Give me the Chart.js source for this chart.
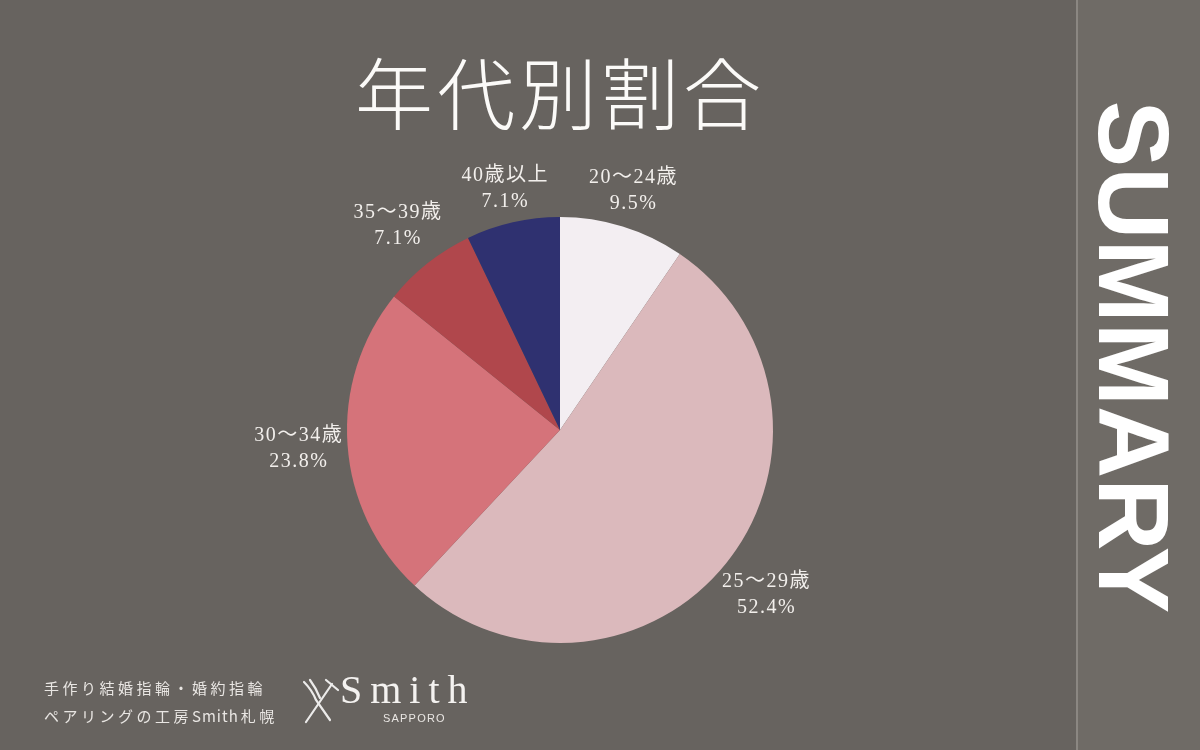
<!DOCTYPE html>
<html>
<head>
<meta charset="utf-8">
<script src="https://cdn.jsdelivr.net/npm/chart.js@4.4.0/dist/chart.umd.min.js"></script>
<style>
  html, body { margin: 0; padding: 0; }
  body { width: 1200px; height: 750px; background: #67635f; position: relative; overflow: hidden; }
  #side { position: absolute; left: 1076px; top: 0; width: 124px; height: 750px; background: #6f6b66; border-left: 2px solid #8b8782; box-sizing: border-box; }
  #summary { position: absolute; left: 1134px; top: 357px; transform: translate(-50%, -50%) rotate(90deg); color: #fff;
    font-family: "Liberation Sans", Arial, sans-serif; font-weight: bold; font-size: 100px; line-height: 1; white-space: nowrap; }
  #title { position: absolute; left: 0; width: 1120px; top: 46px; text-align: center; color: #fbfaf8;
    font-family: "Noto Sans CJK JP", sans-serif; font-weight: 300; font-size: 78px; line-height: 88px; letter-spacing: 4px; }
  #chart { position: absolute; left: 0; top: 0; }
  .foot { position: absolute; left: 44px; color: #e9e6e3; font-family: "Noto Sans CJK JP", sans-serif; font-size: 15px; letter-spacing: 3.5px; white-space: nowrap; }
  .foot span { letter-spacing: 1px; margin-right: 2px; }
  #logo { position: absolute; left: 340px; top: 668px; color: #f4f2f0; font-family: "Liberation Serif", "DejaVu Serif", serif; font-size: 40px; letter-spacing: 8px; line-height: 44px; }
  #sapporo { position: absolute; left: 383px; top: 712px; color: #e9e6e3; font-family: "Liberation Sans", sans-serif; font-size: 11px; letter-spacing: 1.2px; }
  #icon { position: absolute; left: 300px; top: 676px; }
</style>
</head>
<body>
<div id="side"></div>
<div id="summary">SUMMARY</div>
<div id="title">年代別割合</div>
<canvas id="chart" width="1200" height="750"></canvas>
<div class="foot" style="top:677px">手作り結婚指輪・婚約指輪</div>
<div class="foot" style="top:705px">ペアリングの工房<span>Smith</span>札幌</div>
<svg id="icon" width="40" height="52" viewBox="0 0 40 52">
  <g stroke="#ecebea" stroke-width="2.2" fill="none" stroke-linecap="round">
    <line x1="32" y1="8" x2="6" y2="46"/>
    <line x1="26" y1="4" x2="38" y2="14"/>
    <path d="M4 6 Q12 14 16 24 L30 44"/>
    <path d="M10 4 Q16 12 20 22"/>
  </g>
</svg>
<div id="logo">Smith</div>
<div id="sapporo">SAPPORO</div>
<script>
const labels = ["20〜24歳", "25〜29歳", "30〜34歳", "35〜39歳", "40歳以上"];
const shares = [9.5, 52.4, 23.8, 7.1, 7.1];
const percentLabels = ["9.5%", "52.4%", "23.8%", "7.1%", "7.1%"];
const sliceColors = ["#f3eef2", "#dbb9bc", "#d5737a", "#b0474c", "#2f3170"];

const outsideLabels = {
  id: "outsideLabels",
  afterDatasetsDraw(chart) {
    const ctx = chart.ctx;
    const meta = chart.getDatasetMeta(0);
    ctx.save();
    ctx.font = '20px "Liberation Serif", "DejaVu Serif", "Noto Sans CJK JP", serif';
    ctx.letterSpacing = "1.5px";
    ctx.fillStyle = "#f2efec";
    ctx.textAlign = "center";
    ctx.textBaseline = "middle";
    meta.data.forEach((arc, i) => {
      const p = arc.getProps(["x", "y", "startAngle", "endAngle", "outerRadius"], true);
      const a = (p.startAngle + p.endAngle) / 2;
      const w = Math.max(ctx.measureText(labels[i]).width, ctx.measureText(percentLabels[i]).width) / 2;
      const h = 22;
      const d = p.outerRadius + 3 + w * Math.abs(Math.cos(a)) + h * Math.abs(Math.sin(a));
      const cx = p.x + d * Math.cos(a);
      const cy = p.y + d * Math.sin(a);
      ctx.fillText(labels[i], cx, cy - 13);
      ctx.fillText(percentLabels[i], cx, cy + 13);
    });
    ctx.restore();
  }
};

new Chart(document.getElementById("chart").getContext("2d"), {
  type: "pie",
  data: {
    labels: labels,
    datasets: [{
      data: shares,
      backgroundColor: sliceColors,
      borderWidth: 0
    }]
  },
  options: {
    responsive: false,
    animation: false,
    layout: { padding: { left: 347, right: 427, top: 217, bottom: 107 } },
    plugins: { legend: { display: false }, tooltip: { enabled: false } }
  },
  plugins: [outsideLabels]
});
</script>
</body>
</html>
